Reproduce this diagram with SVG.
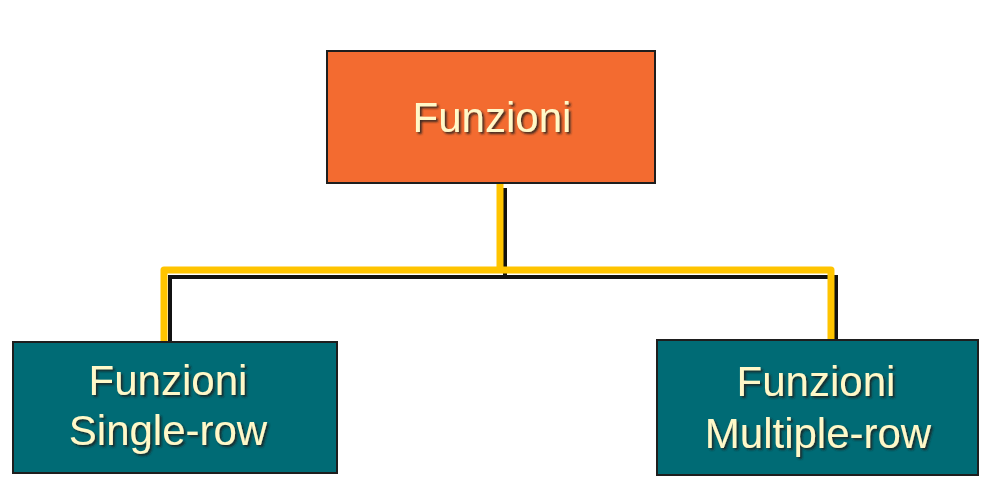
<svg xmlns="http://www.w3.org/2000/svg" width="996" height="498" viewBox="0 0 996 498">
<defs>
<filter id="sh" x="-10%" y="-10%" width="120%" height="130%">
<feDropShadow dx="2" dy="2" stdDeviation="0.8" flood-color="#1a1a1a" flood-opacity="0.85"/>
</filter>
</defs>
<style>
.box{stroke:#1e1e1e;stroke-width:2}
.top{fill:#F36B30}
.leaf{fill:#006B75}
.lbl{font-family:"Liberation Sans",Arial,sans-serif;font-size:42px;fill:#FFF8C8;text-anchor:middle;filter:url(#sh)}
.sh{fill:none;stroke:#111;stroke-width:4}
.ln{fill:none;stroke:#FFC400;stroke-width:7;stroke-linejoin:round}
</style>
<rect width="996" height="498" fill="#fff"/>
<g id="connectors">
<path class="sh" d="M505,188 V277 M170,342 V277 H836 V340"/>
<path class="ln" d="M500,183 V270 M164,342 V270 H831 V340"/>
</g>
<g id="funzioni">
<rect class="box top" x="327" y="51" width="328" height="132"/>
<text class="lbl" x="492" y="132">Funzioni</text>
</g>
<g id="single-row">
<rect class="box leaf" x="13" y="342" width="324" height="131"/>
<text class="lbl" x="168" y="395">Funzioni</text>
<text class="lbl" x="168" y="445">Single-row</text>
</g>
<g id="multiple-row">
<rect class="box leaf" x="657" y="340" width="321" height="135"/>
<text class="lbl" x="816" y="396">Funzioni</text>
<text class="lbl" x="818" y="448">Multiple-row</text>
</g>
</svg>
